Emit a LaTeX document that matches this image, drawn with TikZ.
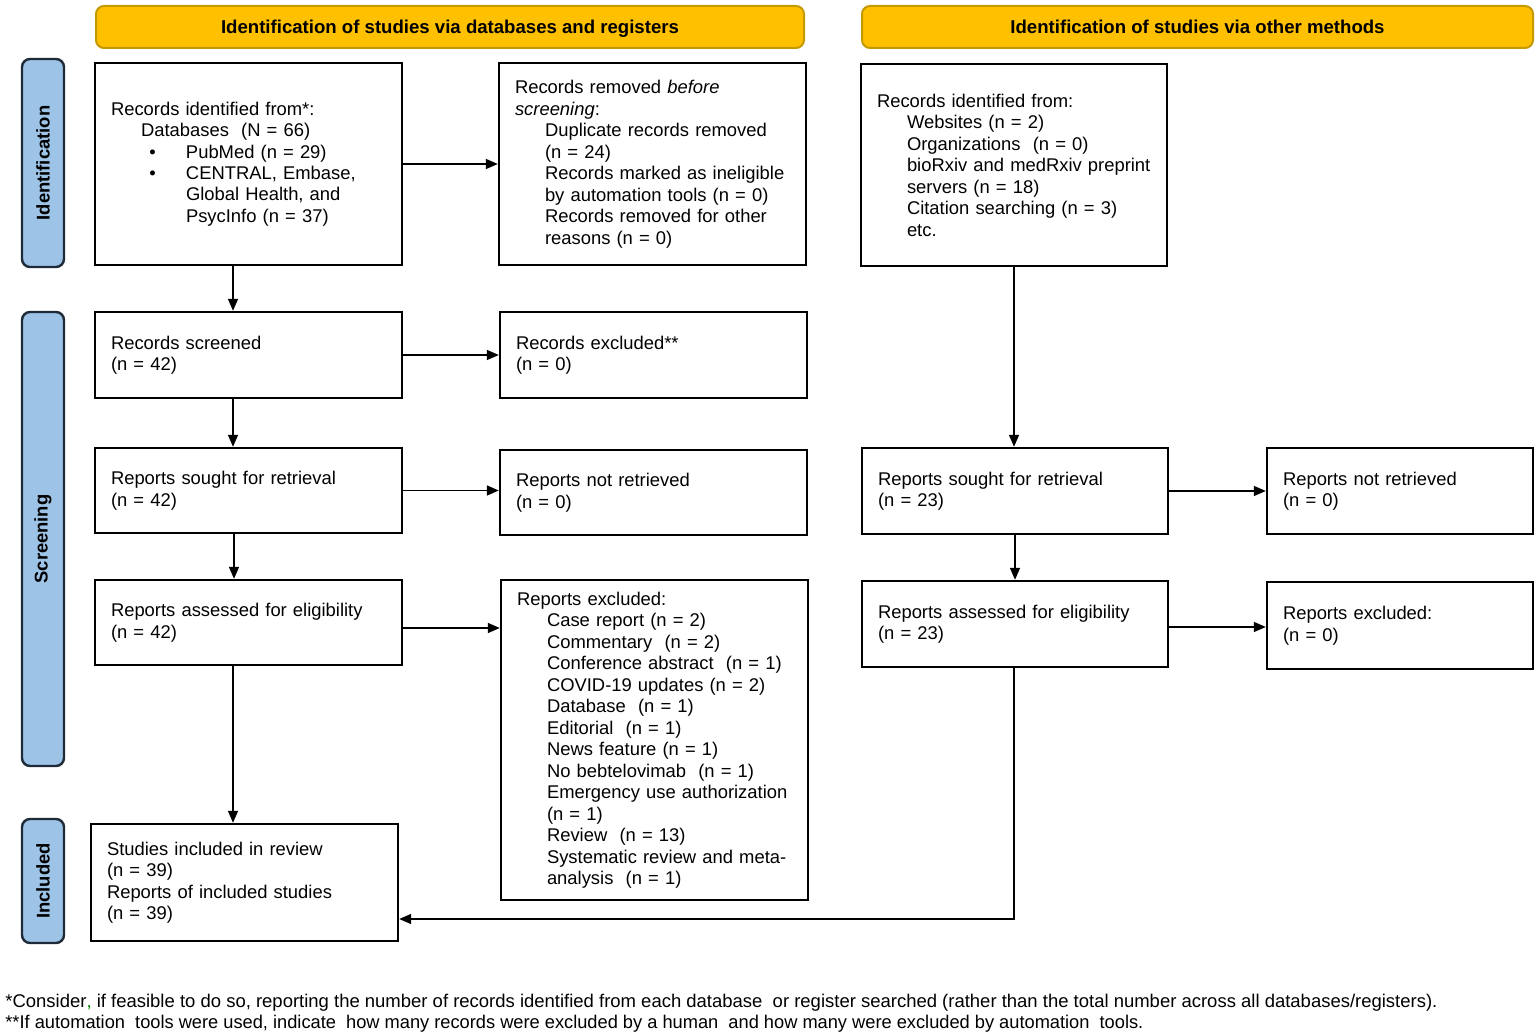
\documentclass[tikz,border=0pt]{standalone}
\usepackage{fontspec}
\setmainfont{Liberation Sans}
\usetikzlibrary{arrows.meta}
\definecolor{hdrfill}{HTML}{FFC000}
\definecolor{hdrline}{HTML}{C49A00}
\definecolor{sidefill}{HTML}{9DC3E6}
\definecolor{sideline}{HTML}{1E2A38}
\newcommand{\bodyfont}{\fontsize{9.2pt}{10.75pt}\selectfont}
\newcommand{\ind}{\hspace*{15pt}}
\newcommand{\bul}{\makebox[37.5pt][l]{\hspace*{19.2pt}\textbullet}}
\newcommand{\hang}{\hspace*{37.5pt}}
\tikzset{
  bx/.style={draw, line width=1.2pt, inner xsep=8pt, inner ysep=0pt, align=left, font=\bodyfont},
  hdr/.style={draw=hdrline, fill=hdrfill, line width=1pt, rounded corners=4pt, minimum height=21pt, font=\bfseries\fontsize{9.3pt}{11pt}\selectfont, inner sep=0pt, text height=8pt, text depth=1pt},
  side/.style={draw=sideline, fill=sidefill, line width=1.2pt, rounded corners=4pt, rotate=90, minimum height=21pt, font=\bfseries\fontsize{9.2pt}{11pt}\selectfont, inner sep=0pt},
  arr/.style={-{Triangle[length=6pt,width=5pt]}, line width=0.75pt}
}
\begin{document}
\begin{tikzpicture}[x=0.5pt,y=-0.5pt]
\useasboundingbox (0,0) rectangle (1540,1036);

% headers
\node[hdr, minimum width=354pt] (h1) at (450,27) {Identification of studies via databases and registers};
\node[hdr, minimum width=335.5pt] (h2) at (1197.5,27) {Identification of studies via other methods};

% side labels
\node[side, minimum width=104pt] (s1) at (43,163) {Identification};
\node[side, minimum width=227pt] (s2) at (43,539) {Screening};
\node[side, minimum width=62pt] (s3) at (43,881) {Included};

% left column
\node[bx, text width=137.5pt, minimum height=101pt] (A) at (248.5,164) {Records identified from*:\\
\ind Databases\ \ (N = 66)\\
\bul PubMed (n = 29)\\
\bul CENTRAL, Embase,\\
\hang Global Health, and\\
\hang PsycInfo (n = 37)};

\node[bx, text width=137.5pt, minimum height=101pt] (B) at (652.5,164) {Records removed \textit{before}\\
\textit{screening}:\\
\ind Duplicate records removed\\
\ind (n = 24)\\
\ind Records marked as ineligible\\
\ind by automation tools (n = 0)\\
\ind Records removed for other\\
\ind reasons (n = 0)};

\node[bx, text width=137.5pt, minimum height=43pt] (D) at (248.5,355) {Records screened\\(n = 42)};
\node[bx, text width=137.5pt, minimum height=43pt] (E) at (653.5,355) {Records excluded**\\(n = 0)};
\node[bx, text width=137.5pt, minimum height=42.5pt] (F) at (248.5,490.5) {Reports sought for retrieval\\(n = 42)};
\node[bx, text width=137.5pt, minimum height=42.5pt] (G) at (653.5,492.5) {Reports not retrieved\\(n = 0)};
\node[bx, text width=137.5pt, minimum height=42.5pt] (J) at (248.5,622.5) {Reports assessed for eligibility\\(n = 42)};

\node[bx, text width=137.5pt, minimum height=160pt] (K) at (654.5,740) {Reports excluded:\\
\ind Case report (n = 2)\\
\ind Commentary\ \ (n = 2)\\
\ind Conference abstract\ \ (n = 1)\\
\ind COVID-19 updates (n = 2)\\
\ind Database\ \ (n = 1)\\
\ind Editorial\ \ (n = 1)\\
\ind News feature (n = 1)\\
\ind No bebtelovimab\ \ (n = 1)\\
\ind Emergency use authorization\\
\ind (n = 1)\\
\ind Review\ \ (n = 13)\\
\ind Systematic review and meta-\\
\ind analysis\ \ (n = 1)};

\node[bx, text width=137.5pt, minimum height=58.5pt] (N) at (244.5,882.5) {Studies included in review\\
(n = 39)\\
Reports of included studies\\
(n = 39)};

% right column
\node[bx, text width=137pt, minimum height=101pt] (C) at (1014,165) {Records identified from:\\
\ind Websites (n = 2)\\
\ind Organizations\ \ (n = 0)\\
\ind bioRxiv and medRxiv preprint\\
\ind servers (n = 18)\\
\ind Citation searching (n = 3)\\
\ind etc.};

\node[bx, text width=137pt, minimum height=43pt] (H) at (1015,491) {Reports sought for retrieval\\(n = 23)};
\node[bx, text width=117pt, minimum height=43pt] (I) at (1400,491) {Reports not retrieved\\(n = 0)};
\node[bx, text width=137pt, minimum height=43pt] (L) at (1015,624) {Reports assessed for eligibility\\(n = 23)};
\node[bx, text width=117pt, minimum height=43.5pt] (M) at (1400,625.5) {Reports excluded:\\(n = 0)};

% arrows
\draw[arr] (A.east) -- (B.west);
\draw[arr] ([xshift=-7.75pt]A.south) -- ([xshift=-7.75pt]D.north);
\draw[arr] (D.east) -- (D.east -| E.west);
\draw[arr] ([xshift=-7.75pt]D.south) -- ([xshift=-7.75pt]F.north);
\draw[arr] (F.east) -- (F.east -| G.west);
\draw[arr] ([xshift=-7.25pt]F.south) -- ([xshift=-7.25pt]J.north);
\draw[arr] ([yshift=-2.75pt]J.east) -- ([yshift=-2.75pt]J.east -| K.west);
\draw[arr] ([xshift=-7.75pt]J.south) -- ([xshift=-7.75pt]J.south |- N.north);
\draw[arr] (C.south) -- (C.south |- H.north);
\draw[arr] (H.east) -- (H.east -| I.west);
\draw[arr] (H.south) -- (H.south |- L.north);
\draw[arr] ([yshift=-1.5pt]L.east) -- ([yshift=-1.5pt]L.east -| M.west);
\draw[arr] ([xshift=-0.5pt]L.south) |- ([yshift=-18.25pt]N.east);

% footnotes
\node[anchor=west, align=left, inner sep=0pt, font=\bodyfont] (fn) at (5,1013) {\resizebox{716pt}{\height}{*Consider{\color{green!55!black},} if feasible to do so, reporting the number of records identified from each database\ \ or register searched (rather than the total number across all databases/registers).}\\
\resizebox{569pt}{\height}{**If automation\ \ tools were used, indicate\ \ how many records were excluded by a human\ \ and how many were excluded by automation\ \ tools.}};
\end{tikzpicture}
\end{document}
